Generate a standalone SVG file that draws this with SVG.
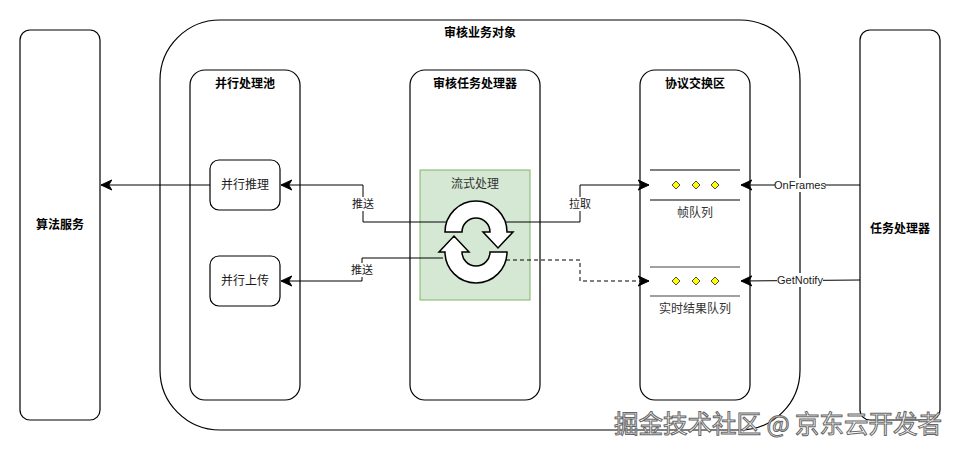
<svg xmlns="http://www.w3.org/2000/svg" width="961" height="451" viewBox="0 0 961 451">
<style>
.box{fill:#fff;stroke:#000;stroke-width:1.2}
.t{font-family:"Liberation Sans","Noto Sans CJK SC",sans-serif;font-size:12px;fill:#1a1a1a;text-anchor:middle;dominant-baseline:central}
.b{font-weight:bold;fill:#000}
.lbl{font-family:"Liberation Sans","Noto Sans CJK SC",sans-serif;font-size:11px;fill:#1a1a1a;text-anchor:middle;dominant-baseline:central}
.c{fill:none;stroke:#000;stroke-width:1}
.dia{fill:#ffff00;stroke:#4d4d4d;stroke-width:1}
</style>
<defs>
<marker id="arr" markerUnits="userSpaceOnUse" markerWidth="12" markerHeight="12" refX="9" refY="5" orient="auto" viewBox="0 0 10 10">
<path d="M0,0.8 L9,5 L0,9.2 L2.5,5 z" fill="#000" stroke="#000" stroke-width="0.8"/>
</marker>
</defs>

<g id="algo">
<rect class="box" x="20" y="30" width="80" height="390" rx="10"/>
<text class="t b" x="60" y="225">算法服务</text>
</g>

<g id="audit-object">
<rect class="box" x="160" y="20" width="640" height="410" rx="60"/>
<text class="t b" x="480" y="33">审核业务对象</text>
</g>

<g id="pool">
<rect class="box" x="190" y="70" width="110" height="330" rx="15"/>
<text class="t b" x="245" y="84">并行处理池</text>
</g>

<g id="processor">
<rect class="box" x="410" y="70" width="130" height="330" rx="15"/>
<text class="t b" x="475" y="84">审核任务处理器</text>
</g>

<g id="exchange">
<rect class="box" x="640" y="70" width="110" height="330" rx="15"/>
<text class="t b" x="695" y="84">协议交换区</text>
</g>

<g id="task">
<rect class="box" x="860" y="30" width="80" height="390" rx="10"/>
<text class="t b" x="900" y="229">任务处理器</text>
</g>

<g id="infer">
<rect class="box" x="210" y="160" width="70" height="50" rx="9"/>
<text class="t" x="245" y="185">并行推理</text>
</g>

<g id="upload">
<rect class="box" x="210" y="256" width="70" height="50" rx="9"/>
<text class="t" x="245" y="281">并行上传</text>
</g>

<g id="stream">
<rect x="420" y="170" width="110" height="130" fill="#d5e8d4" stroke="#82b366" stroke-width="1"/>
<text class="t" x="475" y="184" style="fill:#333">流式处理</text>
</g>

<g id="frame-queue">
<line x1="650" y1="170" x2="740" y2="170" stroke="#000" stroke-width="1"/>
<line x1="650" y1="200" x2="740" y2="200" stroke="#000" stroke-width="1"/>
<path class="dia" d="M676,181 L680,185 L676,189 L672,185 z"/>
<path class="dia" d="M696,181 L700,185 L696,189 L692,185 z"/>
<path class="dia" d="M715,181 L719,185 L715,189 L711,185 z"/>
<text class="t" x="695" y="213" style="fill:#333">帧队列</text>
</g>

<g id="result-queue">
<line x1="650" y1="267" x2="740" y2="267" stroke="#808080" stroke-width="1.5"/>
<line x1="650" y1="296" x2="740" y2="296" stroke="#808080" stroke-width="1.5"/>
<path class="dia" d="M676,277 L680,281 L676,285 L672,281 z"/>
<path class="dia" d="M696,277 L700,281 L696,285 L692,281 z"/>
<path class="dia" d="M715,277 L719,281 L715,285 L711,281 z"/>
<text class="t" x="695" y="309" style="fill:#333">实时结果队列</text>
</g>

<g id="connectors">
<path class="c" d="M210,185 L101,185" marker-end="url(#arr)"/>
<path class="c" d="M447,222 L363,222 L363,185 L281,185" marker-end="url(#arr)"/>
<path class="c" d="M443,258 L362,258 L362,281 L281,281" marker-end="url(#arr)"/>
<path class="c" d="M506,222 L580,222 L580,185 L649,185" marker-end="url(#arr)"/>
<path class="c" d="M506,260 L580,260 L580,281 L649,281" stroke-dasharray="4,3" marker-end="url(#arr)"/>
<path class="c" d="M860,185 L741,185" marker-end="url(#arr)"/>
<path class="c" d="M860,280 L741,281" marker-end="url(#arr)"/>
<rect x="351" y="197" width="24" height="14" fill="#fff"/>
<text class="lbl" x="363" y="204">推送</text>
<rect x="350" y="263" width="24" height="14" fill="#fff"/>
<text class="lbl" x="362" y="270">推送</text>
<rect x="568" y="197" width="24" height="14" fill="#fff"/>
<text class="lbl" x="580" y="204">拉取</text>
<rect x="775" y="178" width="50" height="14" fill="#fff"/>
<text class="lbl" x="800" y="185">OnFrames</text>
<rect x="777" y="273" width="46" height="14" fill="#fff"/>
<text class="lbl" x="800" y="280">GetNotify</text>
</g>

<g id="cycle-icon" fill="#fff" stroke="#000" stroke-width="1.5" stroke-linejoin="miter">
<path d="M445,232 A31,31 0 0 1 507,232 L513,232 L498,248 L483,232 L490,232 A14,14 0 0 0 462,232 Z"/>
<path d="M507,252 A31,31 0 0 1 445,252 L439,252 L454,236 L469,252 L462,252 A14,14 0 0 0 490,252 Z"/>
</g>

<text x="778" y="422" font-family="'Noto Sans CJK SC',sans-serif" font-size="24.5" fill="#fff" stroke="#666" stroke-width="1" text-anchor="middle" dominant-baseline="central">掘金技术社区 @ 京东云开发者</text>
</svg>
